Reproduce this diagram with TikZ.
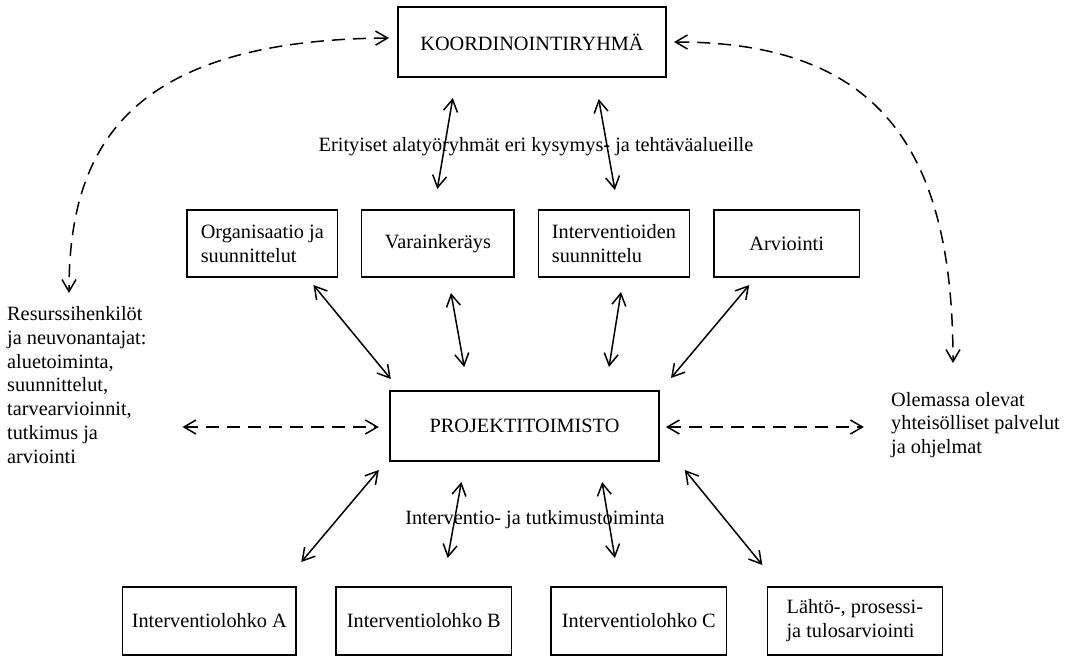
\documentclass[tikz,border=0pt]{standalone}
\usepackage{fontspec}
\setmainfont{Liberation Serif}
\usetikzlibrary{arrows.meta}
\begin{document}
\begin{tikzpicture}[x=1pt,y=-1pt,
  lbl/.style={font=\fontsize{20.3}{23.8}\selectfont},
  box/.style={lbl,draw,line width=1.6pt,inner sep=0pt,minimum height=67pt,align=left},
  txt/.style={lbl,inner sep=0pt,align=left},
  arr/.style={line width=1.5pt,{Straight Barb[length=12pt,width=14pt]}-{Straight Barb[length=12pt,width=14pt]}},
  darr/.style={arr,dash pattern=on 13pt off 8pt}]
\useasboundingbox (0,0) rectangle (1075,656);
% boxes
\node[box,minimum width=268.5pt,minimum height=70pt] (koord) at (532,42) {KOORDINOINTIRYHMÄ};
\node[box,minimum width=150.5pt] (org) at (262.3,243.5) {Organisaatio ja\\suunnittelut};
\node[box,minimum width=152.5pt] (var) at (437.9,243.5) {Varainkeräys};
\node[box,minimum width=151pt] (ints) at (613.9,243.5) {Interventioiden\\suunnittelu};
\node[box,minimum width=145.4pt] (arv) at (786.7,243.5) {Arviointi};
\node[box,minimum width=269pt,minimum height=70pt] (proj) at (524.5,426) {PROJEKTITOIMISTO};
\node[box,minimum width=173.3pt,minimum height=68pt] (ia) at (209.3,621) {Interventiolohko A};
\node[box,minimum width=175.7pt,minimum height=68pt] (ib) at (423.8,621) {Interventiolohko B};
\node[box,minimum width=175.7pt,minimum height=68pt] (ic) at (638.8,621) {Interventiolohko C};
\node[box,minimum width=175pt,minimum height=68pt] (id) at (854.8,621) {Lähtö-, prosessi-\\ja tulosarviointi};
% free texts
\node[txt,anchor=west] (res) at (7,385) {Resurssihenkilöt\\ja neuvonantajat:\\aluetoiminta,\\suunnittelut,\\tarvearvioinnit,\\tutkimus ja\\arviointi};
\node[txt,anchor=west] (ole) at (891,425) {Olemassa olevat\\yhteisölliset palvelut\\ja ohjelmat};
\node[txt] (eri) at (536,147) {Erityiset alatyöryhmät eri kysymys- ja tehtäväalueille};
\node[txt] (itt) at (535,520) {Interventio- ja tutkimustoiminta};
% connector end points
\coordinate (k1a) at (452.8,98);  \coordinate (k1b) at (437.3,189);
\coordinate (k2a) at (598.7,99);  \coordinate (k2b) at (614.9,190);
\coordinate (m1a) at (313.4,285); \coordinate (m1b) at (390.8,379);
\coordinate (m2a) at (451,293);   \coordinate (m2b) at (464.2,367);
\coordinate (m3a) at (621,292);   \coordinate (m3b) at (609,367);
\coordinate (m4a) at (749.2,285); \coordinate (m4b) at (671,378);
\coordinate (b1a) at (378.8,470); \coordinate (b1b) at (301.3,562);
\coordinate (b2a) at (461.4,482); \coordinate (b2b) at (447.7,558);
\coordinate (b3a) at (602.1,482); \coordinate (b3b) at (614.9,558);
\coordinate (b4a) at (684.8,470); \coordinate (b4b) at (762.3,565);
\coordinate (dla) at (182.5,427); \coordinate (dlb) at (378.8,427);
\coordinate (dra) at (665.9,427); \coordinate (drb) at (863.9,427);
\coordinate (cla) at (389,38);    \coordinate (clb) at (69,293);
\coordinate (cra) at (674,42);    \coordinate (crb) at (953,363);
% solid arrows
\draw[arr] (k1a) -- (k1b);
\draw[arr] (k2a) -- (k2b);
\draw[arr] (m1a) -- (m1b);
\draw[arr] (m2a) -- (m2b);
\draw[arr] (m3a) -- (m3b);
\draw[arr] (m4a) -- (m4b);
\draw[arr] (b1a) -- (b1b);
\draw[arr] (b2a) -- (b2b);
\draw[arr] (b3a) -- (b3b);
\draw[arr] (b4a) -- (b4b);
% dashed arrows
\draw[darr] (dla) -- (dlb);
\draw[darr] (dra) -- (drb);
\draw[darr] (cla) .. controls (125,40) and (69,150) .. (clb);
\draw[darr] (cra) .. controls (880,42) and (953,150) .. (crb);
\end{tikzpicture}
\end{document}
